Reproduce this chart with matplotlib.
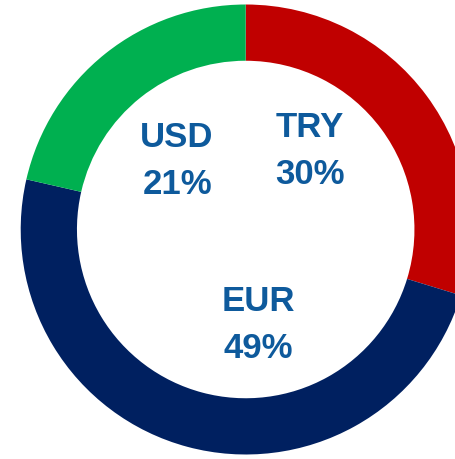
import matplotlib.pyplot as plt

labels = ['TRY', 'EUR', 'USD']
shares = [29.7, 48.8, 21.4]
colors = ['#C00000', '#002060', '#00B050']
text_pos = {'TRY': (0.286, 0.35), 'EUR': (0.055, -0.425), 'USD': (-0.305, 0.305)}


def main():
    plt.rcParams['font.family'] = ['Liberation Sans', 'DejaVu Sans']

    fig = plt.figure(figsize=(4.56, 4.59), dpi=100)
    ax = fig.add_axes([0, 0, 1, 1])

    ax.pie(shares, colors=colors, startangle=90, counterclock=False,
           radius=1.0, wedgeprops=dict(width=0.25, linewidth=0))

    for name, val in zip(labels, shares):
        x, y = text_pos[name]
        ax.text(x, y, f'{name}\n{round(val)}%', ha='center', va='center',
                fontsize=25, fontweight='bold', color='#0E5A9C',
                linespacing=1.55)

    ax.set_aspect('auto')
    ax.set_xlim(-245.7 / 225, (456 - 245.7) / 225)
    ax.set_ylim((229.5 - 459) / 225, 229.5 / 225)
    ax.axis('off')

    fig.savefig('out.png', dpi=100)


if __name__ == '__main__':
    main()
